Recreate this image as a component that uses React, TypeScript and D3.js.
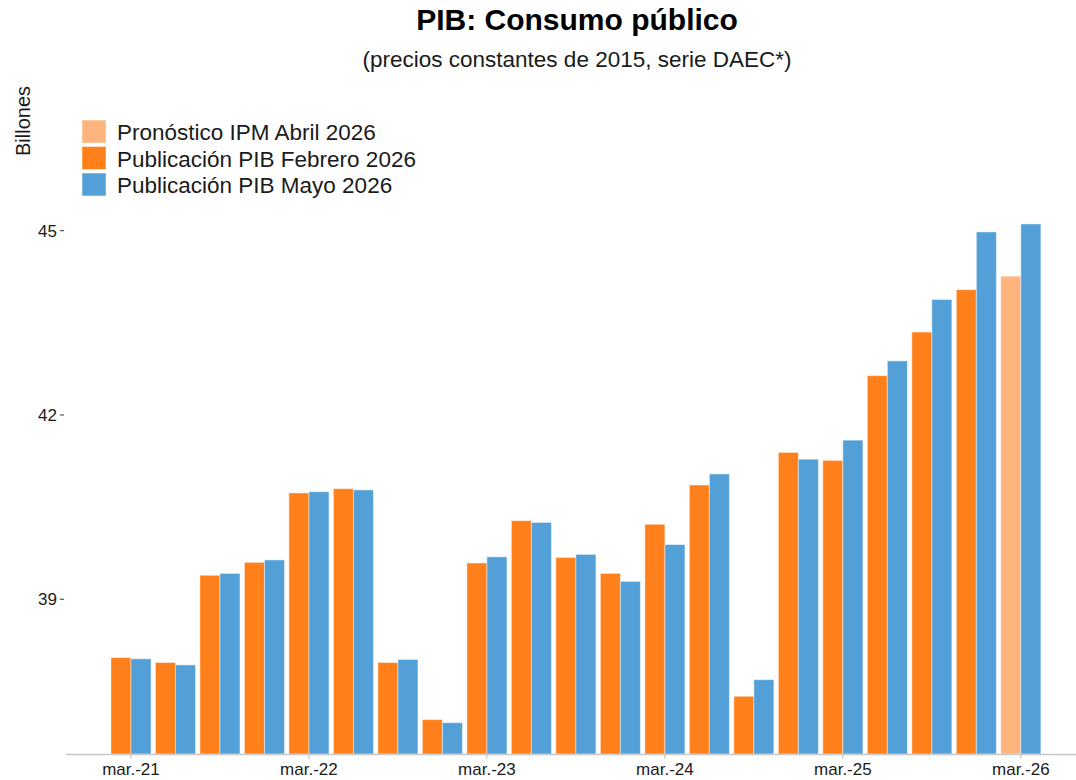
import { useMemo } from "react";
import * as d3 from "d3";

const WIDTH = 1076;
const HEIGHT = 780;
const MARGIN = { top: 200, right: 0, bottom: 26, left: 66 };

const quarters = [
  "mar.-21", "jun.-21", "sep.-21", "dic.-21",
  "mar.-22", "jun.-22", "sep.-22", "dic.-22",
  "mar.-23", "jun.-23", "sep.-23", "dic.-23",
  "mar.-24", "jun.-24", "sep.-24", "dic.-24",
  "mar.-25", "jun.-25", "sep.-25", "dic.-25",
  "mar.-26",
];

// Publicación PIB Febrero 2026 (no dato para mar.-26)
const febrero2026: (number | null)[] = [
  38.05, 37.97, 39.39, 39.6, 40.73, 40.8, 37.97, 37.04, 39.59, 40.28, 39.68,
  39.42, 40.22, 40.86, 37.42, 41.39, 41.26, 42.64, 43.35, 44.04, null,
];

// Publicación PIB Mayo 2026
const mayo2026 = [
  38.03, 37.93, 39.42, 39.64, 40.75, 40.78, 38.02, 36.99, 39.69, 40.25, 39.73,
  39.29, 39.89, 41.04, 37.69, 41.28, 41.59, 42.88, 43.88, 44.98, 45.11,
];

// Pronóstico IPM Abril 2026 (sólo último trimestre)
const pronostico: (number | null)[] = [
  null, null, null, null, null, null, null, null, null, null, null,
  null, null, null, null, null, null, null, null, null, 44.26,
];

const yTicks = [39, 42, 45];
const xTickLabels = ["mar.-21", "mar.-22", "mar.-23", "mar.-24", "mar.-25", "mar.-26"];

const COLORS = {
  pronostico: "#FFB47E",
  febrero: "#FF7F1A",
  mayo: "#539FD7",
};

const legendItems = [
  { label: "Pronóstico IPM Abril 2026", color: COLORS.pronostico },
  { label: "Publicación PIB Febrero 2026", color: COLORS.febrero },
  { label: "Publicación PIB Mayo 2026", color: COLORS.mayo },
];

const FONT = "'Liberation Sans', Arial, Helvetica, sans-serif";

export default function App() {
  const boundsHeight = HEIGHT - MARGIN.bottom;

  // index scale: group centres, with the ggplot-like expansion at both ends
  const xScale = useMemo(
    () => d3.scaleLinear().domain([-1.46, 21.24]).range([MARGIN.left, WIDTH - MARGIN.right]),
    []
  );
  const yScale = useMemo(
    () => d3.scaleLinear().domain([36.48, 45.5]).range([boundsHeight, MARGIN.top]),
    []
  );

  const step = xScale(1) - xScale(0);
  const barW = step * 0.45;

  const bars: JSX.Element[] = [];
  quarters.forEach((q, i) => {
    const cx = xScale(i);
    const left = febrero2026[i] ?? pronostico[i];
    const leftColor = febrero2026[i] != null ? COLORS.febrero : COLORS.pronostico;
    if (left != null) {
      bars.push(
        <rect
          key={`l-${q}`}
          x={cx - barW}
          y={yScale(left)}
          width={barW}
          height={boundsHeight - yScale(left)}
          fill={leftColor}
          stroke="#ffffff"
          strokeOpacity={0.45}
          strokeWidth={1}
        />
      );
    }
    bars.push(
      <rect
        key={`r-${q}`}
        x={cx}
        y={yScale(mayo2026[i])}
        width={barW}
        height={boundsHeight - yScale(mayo2026[i])}
        fill={COLORS.mayo}
        stroke="#ffffff"
        strokeOpacity={0.45}
        strokeWidth={1}
      />
    );
  });

  return (
    <svg
      width={WIDTH}
      height={HEIGHT}
      style={{ position: "absolute", left: 0, top: 0, background: "#fff" }}
      fontFamily={FONT}
    >
      <text x={577} y={30} textAnchor="middle" fontSize={30} fontWeight="bold" fill="#000">
        PIB: Consumo público
      </text>
      <text x={577} y={67} textAnchor="middle" fontSize={22.5} fill="#1a1a1a">
        (precios constantes de 2015, serie DAEC*)
      </text>

      <text
        transform={`translate(30,121) rotate(-90)`}
        textAnchor="middle"
        fontSize={20}
        fill="#1a1a1a"
      >
        Billones
      </text>

      {legendItems.map((d, i) => (
        <g key={d.label} transform={`translate(82,${120 + i * 26.5})`}>
          <rect width={24} height={23} fill={d.color} stroke="#ffffff" strokeOpacity={0.5} />
          <text x={35} y={20} fontSize={22.5} fill="#1a1a1a">
            {d.label}
          </text>
        </g>
      ))}

      {bars}

      <line
        x1={MARGIN.left}
        x2={WIDTH}
        y1={boundsHeight + 0.5}
        y2={boundsHeight + 0.5}
        stroke="#c8c8c8"
        strokeWidth={1.5}
      />

      {yTicks.map((t) => (
        <g key={t} transform={`translate(0,${yScale(t)})`}>
          <line x1={60} x2={64} stroke="#333" strokeWidth={1} />
          <text x={57} dy="0.35em" textAnchor="end" fontSize={17} fill="#1a1a1a">
            {t}
          </text>
        </g>
      ))}

      {xTickLabels.map((lab) => {
        const x = xScale(quarters.indexOf(lab));
        return (
          <g key={lab} transform={`translate(${x},${boundsHeight})`}>
            <line y1={1} y2={5} stroke="#c8c8c8" strokeWidth={1.2} />
            <text y={21} textAnchor="middle" fontSize={17} fill="#1a1a1a">
              {lab}
            </text>
          </g>
        );
      })}
    </svg>
  );
}
